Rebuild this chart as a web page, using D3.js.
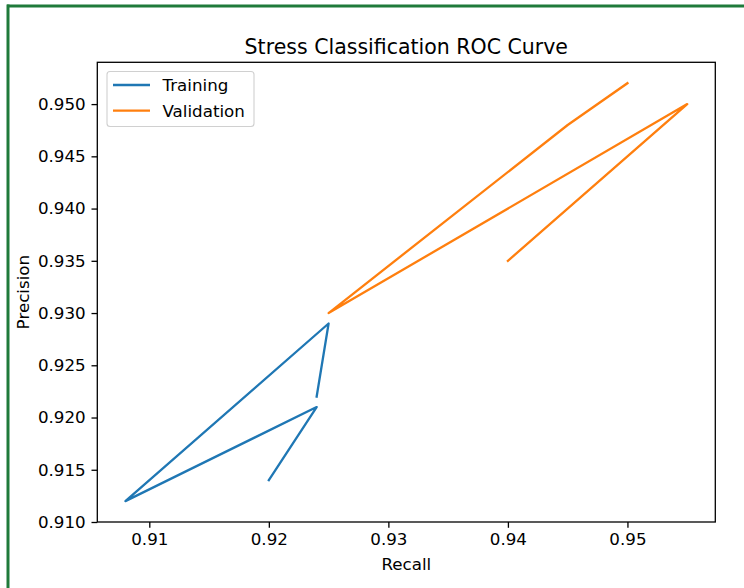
<!DOCTYPE html>
<html>
<head>
<meta charset="utf-8">
<script src="https://cdn.jsdelivr.net/npm/d3@7"></script>
<style>
  html, body { margin: 0; padding: 0; background: #fff; }
  svg { display: block; }
  text { font-family: "DejaVu Sans", sans-serif; fill: #000; }
</style>
</head>
<body>
<script>
// ---- data ----
const trainingRecall    = [0.920, 0.924, 0.908, 0.925, 0.924];
const trainingPrecision = [0.914, 0.921, 0.912, 0.929, 0.922];
const validationRecall    = [0.950, 0.945, 0.925, 0.955, 0.940];
const validationPrecision = [0.952, 0.948, 0.930, 0.950, 0.935];
const seriesNames = ["Training", "Validation"];
const seriesColors = ["#1f77b4", "#ff7f0e"];
const xTicks = [0.91, 0.92, 0.93, 0.94, 0.95];
const yTicks = [0.910, 0.915, 0.920, 0.925, 0.930, 0.935, 0.940, 0.945, 0.950];
const titleText = "Stress Classification ROC Curve";
const xLabel = "Recall";
const yLabel = "Precision";

(function () {
const W = 744, H = 588;
const pLeft = 97.3, pRight = 715.3, pTop = 62.3, pBottom = 522;
const fs = 16.7;

const svg = d3.select("body").append("svg").attr("width", W).attr("height", H);

// green frame
svg.append("rect").attr("x", 0).attr("y", 0).attr("width", W).attr("height", H).attr("fill", "#fff");
svg.append("line").attr("x1", 7).attr("x2", W).attr("y1", 6).attr("y2", 6)
  .attr("stroke", "#1f7a3a").attr("stroke-width", 3);
svg.append("line").attr("x1", 8).attr("x2", 8).attr("y1", 4.5).attr("y2", H)
  .attr("stroke", "#1f7a3a").attr("stroke-width", 3);

const series = [
  { name: seriesNames[0], color: seriesColors[0], pts: trainingRecall.map((r, i) => [r, trainingPrecision[i]]) },
  { name: seriesNames[1], color: seriesColors[1], pts: validationRecall.map((r, i) => [r, validationPrecision[i]]) }
];

// matplotlib-style 5% margins
const allX = trainingRecall.concat(validationRecall);
const allY = trainingPrecision.concat(validationPrecision);
const [x0, x1] = d3.extent(allX), [y0, y1] = d3.extent(allY);
const mx = (x1 - x0) * 0.05, my = (y1 - y0) * 0.05;

const x = d3.scaleLinear().domain([x0 - mx, x1 + mx]).range([pLeft, pRight]);
const y = d3.scaleLinear().domain([y0 - my, y1 + my]).range([pBottom, pTop]);

const g = svg.append("g");

// lines
const line = d3.line().x(d => x(d[0])).y(d => y(d[1]));
series.forEach(s => {
  g.append("path").attr("d", line(s.pts)).attr("fill", "none")
    .attr("stroke", s.color).attr("stroke-width", 2.3)
    .attr("stroke-linejoin", "round").attr("stroke-linecap", "square");
});

// axes
const xAxis = d3.axisBottom(x).tickValues(xTicks).tickFormat(d3.format(".2f")).tickSize(5.8).tickPadding(5.8);
const yAxis = d3.axisLeft(y).tickValues(yTicks).tickFormat(d3.format(".3f")).tickSize(5.8).tickPadding(5.8);

const gx = svg.append("g").attr("transform", `translate(0,${pBottom})`).call(xAxis);
const gy = svg.append("g").attr("transform", `translate(${pLeft},0)`).call(yAxis);
[gx, gy].forEach(a => {
  a.select(".domain").remove();
  a.selectAll(".tick line").attr("stroke", "#000").attr("stroke-width", 1.3);
  a.selectAll(".tick text").attr("font-size", fs).attr("font-family", "DejaVu Sans").attr("fill", "#000");
});

// spines
svg.append("rect").attr("x", pLeft).attr("y", pTop).attr("width", pRight - pLeft).attr("height", pBottom - pTop)
  .attr("fill", "none").attr("stroke", "#000").attr("stroke-width", 1.3);

// title & labels
svg.append("text").attr("x", (pLeft + pRight) / 2).attr("y", 54).attr("text-anchor", "middle")
  .attr("font-size", 20.5).text(titleText);
svg.append("text").attr("x", (pLeft + pRight) / 2).attr("y", 570).attr("text-anchor", "middle")
  .attr("font-size", fs).text(xLabel);
svg.append("text").attr("transform", `translate(29,${(pTop + pBottom) / 2}) rotate(-90)`)
  .attr("text-anchor", "middle").attr("font-size", fs).text(yLabel);

// legend
const lg = svg.append("g");
lg.append("rect").attr("x", 107).attr("y", 71.5).attr("width", 147).attr("height", 55)
  .attr("rx", 3).attr("fill", "#fff").attr("fill-opacity", 0.8)
  .attr("stroke", "#d0d0d0").attr("stroke-width", 1.1);
series.forEach((s, i) => {
  const ly = 85 + i * 25.7;
  lg.append("line").attr("x1", 113).attr("x2", 150).attr("y1", ly).attr("y2", ly)
    .attr("stroke", s.color).attr("stroke-width", 2.3);
  lg.append("text").attr("x", 162.5).attr("y", ly + 6).attr("font-size", fs).text(s.name);
});
})();
</script>
</body>
</html>
